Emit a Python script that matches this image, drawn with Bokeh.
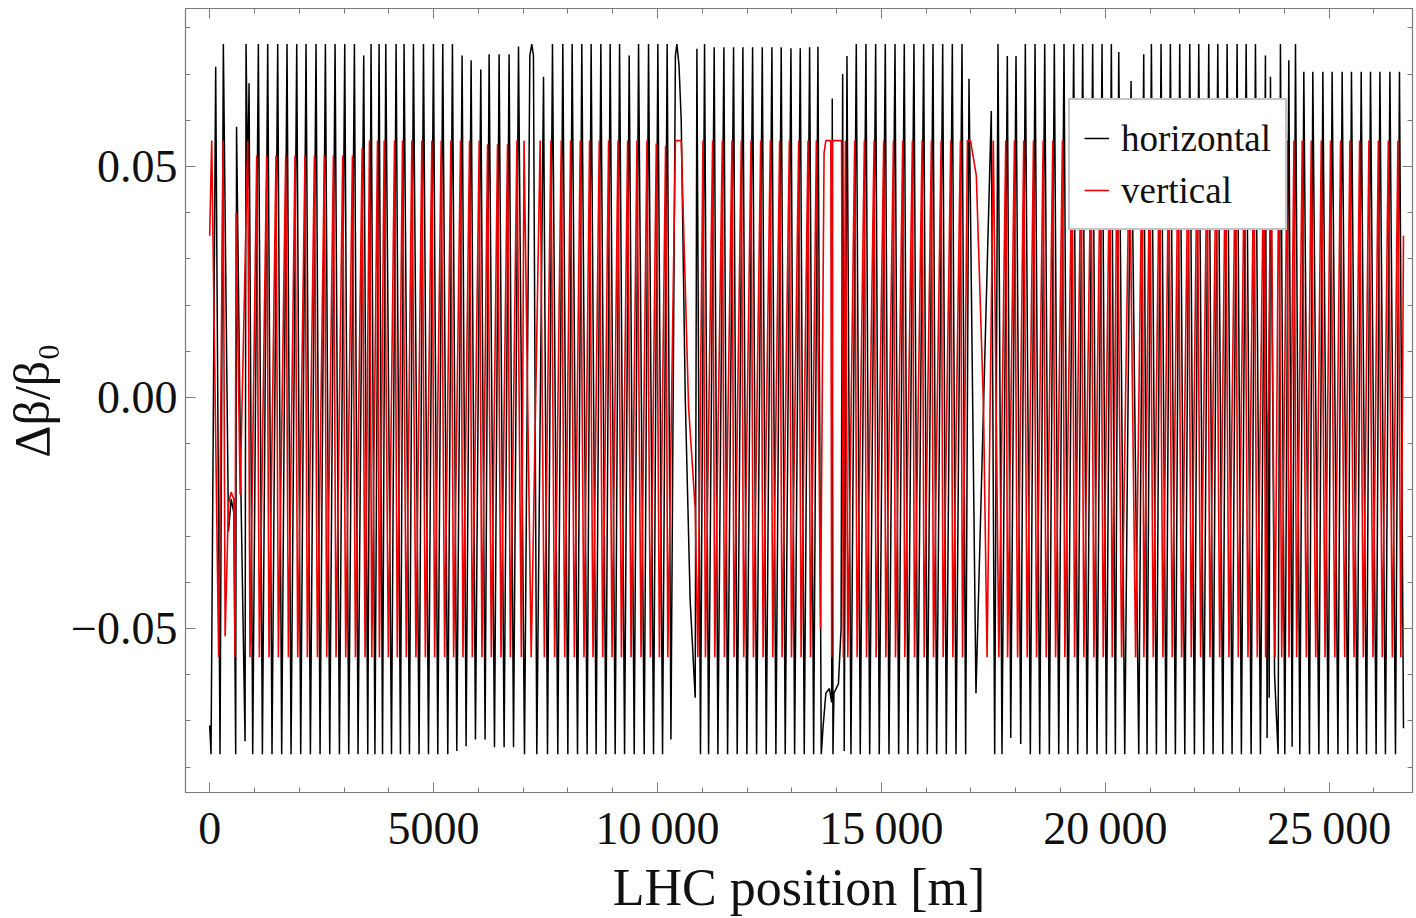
from bokeh.plotting import figure
from bokeh.models import Range1d, FixedTicker, LinearAxis, Legend, LegendItem
from bokeh.embed import file_html
from bokeh.resources import INLINE

# ---- data: (LHC position [m], delta beta / beta0) ----
h_ir1 = [(0, -0.071), (30, -0.0772), (134, 0.0716), (231, -0.0772), (305, 0.0765), (420, -0.029),
         (480, -0.022), (540, -0.025), (581, -0.0772), (600, 0.0586), (700, -0.022), (790, -0.0744),
         (812, 0.0765), (850, 0.045), (879, 0.068), (961, -0.0772)]
h_arc1 = [(1087, 0.0765), (1177, -0.0772), (1296, 0.0765), (1392, -0.0772), (1519, 0.0765), (1608, -0.0772),
          (1727, 0.0765), (1817, -0.0772), (1944, 0.0765), (2033, -0.0772), (2152, 0.0765), (2249, -0.0772),
          (2375, 0.0765), (2465, -0.0772), (2584, 0.0765), (2681, -0.0772), (2800, 0.0765), (2897, -0.0772),
          (3016, 0.0765), (3105, -0.0772), (3232, 0.0765), (3313, -0.0772), (3440, 0.074), (3530, -0.0772)]
h_arc2 = [(3604, 0.0765), (3690, -0.0772), (3783, 0.0765), (3860, -0.0772), (3932, 0.0765), (4060, -0.0772),
          (4163, 0.0765), (4260, -0.0772), (4341, 0.0765), (4461, -0.0772), (4550, 0.0765), (4676, -0.0772),
          (4774, 0.0765), (4886, -0.0772), (4997, 0.0765), (5094, -0.0772), (5205, 0.0765), (5317, -0.0772),
          (5421, 0.0765), (5518, -0.0765), (5637, 0.074), (5726, -0.0755), (5838, 0.073), (5935, -0.074),
          (6054, 0.071), (6150, -0.074)]
h_arc3 = [(6240, 0.0743), (6360, -0.0757), (6463, 0.0743), (6575, -0.0757), (6686, 0.0743), (6785, -0.0757),
          (6896, 0.076), (7030, -0.0772), (7150, 0.074), (7193, 0.0765), (7230, 0.074), (7305, -0.0772),
          (7455, 0.0694), (7544, -0.0772), (7655, 0.0765), (7774, -0.0772), (7886, 0.0765), (7998, -0.0772),
          (8094, 0.0765), (8214, -0.0772), (8310, 0.0765), (8429, -0.0772), (8518, 0.0765), (8630, -0.0772),
          (8735, 0.0765), (8847, -0.0772), (8943, 0.0765), (9055, -0.0772), (9153, 0.0765), (9265, -0.0772),
          (9368, 0.074), (9480, -0.0772), (9577, 0.0765), (9703, -0.0772), (9800, 0.0765), (9912, -0.0772),
          (10008, 0.0765), (10113, -0.0772), (10216, 0.0765), (10300, -0.074), (10400, 0.074), (10433, 0.0765),
          (10480, 0.072), (10530, 0.06), (10620, 0.0), (10730, -0.044), (10842, -0.065)]
h_arc4 = [(10880, 0.0755), (10960, -0.0772), (11051, 0.0765), (11141, -0.0772), (11266, 0.0758), (11349, -0.0772),
          (11483, 0.0758), (11565, -0.0772), (11699, 0.0758), (11780, -0.0772), (11907, 0.0758), (11996, -0.0772),
          (12124, 0.0758), (12213, -0.0772), (12340, 0.0758), (12428, -0.0772), (12555, 0.0758), (12644, -0.0772),
          (12763, 0.0758), (12852, -0.0772), (12980, 0.0756), (13062, -0.0772), (13188, 0.0756), (13277, -0.0772),
          (13397, 0.0758), (13487, -0.0772), (13583, 0.0759), (13657, -0.0772), (13700, -0.071), (13760, -0.064),
          (13840, -0.063), (13890, -0.066), (13903, 0.0647), (13918, -0.0772), (13940, -0.064), (14040, -0.062),
          (14100, -0.05), (14135, 0.070), (14170, -0.0765), (14231, 0.0739), (14320, -0.0772)]
h_arc5 = [(14439, 0.0765), (14528, -0.0772), (14655, 0.0765), (14738, -0.0772), (14872, 0.0765), (14952, -0.0772),
          (15087, 0.0765), (15169, -0.0772), (15304, 0.0765), (15385, -0.0772), (15511, 0.0765), (15593, -0.0772),
          (15727, 0.0765), (15810, -0.0772), (15944, 0.0765), (16025, -0.0772), (16152, 0.0765), (16234, -0.0772),
          (16369, 0.0765), (16449, -0.0772), (16584, 0.0765), (16666, -0.0772), (16800, 0.0765), (16882, -0.0772),
          (16956, 0.069), (17112, -0.064), (17454, 0.062)]
h_arc6 = [(17530, -0.0772), (17604, 0.0765), (17693, -0.0772), (17812, 0.0739), (17888, -0.0737), (18006, 0.0739),
          (18111, -0.075), (18214, 0.0765), (18326, -0.0772), (18431, 0.0765), (18535, -0.0772), (18647, 0.0765),
          (18750, -0.0772), (18862, 0.0765), (18960, -0.0772), (19078, 0.0765), (19167, -0.0772), (19294, 0.0765),
          (19384, -0.0772), (19495, 0.0765), (19592, -0.0772), (19718, 0.0765), (19815, -0.0772), (19927, 0.0765),
          (20024, -0.0772), (20135, 0.0765), (20225, -0.0772), (20300, 0.0748), (20434, -0.0772), (20575, 0.0685),
          (20747, -0.0772), (20858, 0.0743), (20932, -0.0772)]
h_arc7 = [(21029, 0.0765), (21141, -0.0772), (21245, 0.0765), (21357, -0.0772), (21453, 0.0765), (21565, -0.0772),
          (21662, 0.0765), (21775, -0.0772), (21886, 0.0765), (21990, -0.0772), (22087, 0.0765), (22199, -0.0772),
          (22310, 0.0765), (22407, -0.0772), (22512, 0.0765), (22624, -0.0772), (22720, 0.0765), (22831, -0.0772),
          (22943, 0.0765), (23039, -0.0772), (23145, 0.0765), (23256, -0.0772), (23353, 0.0765), (23464, -0.0772),
          (23576, 0.074), (23613, -0.0737), (23640, -0.003), (23660, -0.065), (23688, 0.0694), (23780, -0.06),
          (23859, -0.0772), (23911, 0.0765), (24009, -0.0772), (24098, 0.073), (24172, -0.0756), (24247, 0.0765),
          (24344, -0.0772)]
h_arc8 = [(24433, 0.0705), (24559, -0.0772), (24634, 0.0705), (24769, -0.0772), (24858, 0.0705), (24977, -0.0772),
          (25065, 0.0705), (25195, -0.0772), (25289, 0.0705), (25416, -0.0772), (25497, 0.0705), (25624, -0.0772),
          (25714, 0.0705), (25832, -0.0772), (25922, 0.0705), (26048, -0.0772), (26132, 0.0705), (26256, -0.0772),
          (26355, 0.0705), (26480, -0.0772), (26569, 0.0705), (26659, -0.0716)]

v_ir1 = [(0, 0.035), (45, 0.0556), (200, -0.0562), (300, 0.0556), (345, -0.0517), (420, -0.023), (480, -0.0205),
         (540, -0.022), (565, -0.0562), (590, 0.040), (680, -0.021), (850, 0.0556), (900, -0.0562)]
v_arc1 = [(1050, 0.0524), (1110, -0.0562), (1273, 0.0524), (1325, -0.0562), (1481, 0.0524), (1534, -0.0562),
          (1698, 0.0524), (1758, -0.0562), (1906, 0.0524), (1966, -0.0562), (2129, 0.0524), (2182, -0.0562),
          (2339, 0.0524), (2406, -0.0562), (2562, 0.0524), (2614, -0.0562), (2763, 0.0524), (2822, -0.0562),
          (2971, 0.0524), (3038, -0.0562), (3188, 0.0524), (3255, -0.0562), (3405, 0.054), (3470, -0.0562)]
v_arc2 = [(3569, 0.0556), (3620, -0.0562), (3748, 0.0556), (3790, -0.0562), (3897, 0.0556), (3990, -0.0562),
          (4128, 0.0556), (4190, -0.0562), (4306, 0.0556), (4391, -0.0562), (4515, 0.0556), (4606, -0.0562),
          (4739, 0.0556), (4816, -0.0562), (4962, 0.0556), (5024, -0.0562), (5170, 0.0556), (5247, -0.0562),
          (5386, 0.0556), (5448, -0.0562), (5602, 0.0556), (5656, -0.0562), (5803, 0.0556), (5865, -0.0562),
          (6019, 0.0556), (6080, -0.0562)]
v_arc3 = [(6205, 0.0548), (6290, -0.0562), (6428, 0.0548), (6505, -0.0562), (6651, 0.0548), (6715, -0.0562),
          (6861, 0.0556), (6960, -0.0562), (7020, 0.0556), (7180, -0.0562), (7380, 0.0556), (7474, -0.0562),
          (7620, 0.0556), (7704, -0.0562), (7851, 0.0556), (7928, -0.0562), (8059, 0.0556), (8144, -0.0562),
          (8275, 0.0556), (8359, -0.0562), (8483, 0.0556), (8560, -0.0562), (8700, 0.0556), (8777, -0.0562),
          (8908, 0.0556), (8985, -0.0562), (9118, 0.0556), (9195, -0.0562), (9333, 0.0556), (9410, -0.0562),
          (9542, 0.0556), (9633, -0.0562), (9765, 0.0556), (9842, -0.0562), (9973, 0.055), (10043, -0.0562),
          (10181, 0.0545), (10230, -0.0562), (10400, 0.0556), (10530, 0.0556), (10694, -0.002), (10842, -0.024),
          (10902, -0.0562)]
v_arc4 = [(11016, 0.0556), (11071, -0.0562), (11231, 0.0556), (11279, -0.0562), (11448, 0.0556), (11495, -0.0562),
          (11664, 0.0556), (11710, -0.0562), (11872, 0.0556), (11926, -0.0562), (12089, 0.0556), (12143, -0.0562),
          (12305, 0.0556), (12358, -0.0562), (12520, 0.0556), (12574, -0.0562), (12728, 0.0556), (12782, -0.0562),
          (12945, 0.0556), (12992, -0.0562), (13153, 0.0556), (13207, -0.0562), (13362, 0.0556), (13417, -0.0562),
          (13548, 0.0556), (13640, -0.050), (13720, 0.053), (13760, 0.0556), (13870, 0.0556), (13890, -0.0562),
          (13910, 0.0556), (14110, 0.0556), (14150, -0.0562)]
v_arc5 = [(14196, 0.0556), (14250, -0.0562), (14404, 0.0556), (14458, -0.0562), (14620, 0.0556), (14668, -0.0562),
          (14837, 0.0556), (14882, -0.0562), (15052, 0.0556), (15099, -0.0562), (15269, 0.0556), (15315, -0.0562),
          (15476, 0.0556), (15523, -0.0562), (15692, 0.0556), (15740, -0.0562), (15909, 0.0556), (15955, -0.0562),
          (16117, 0.0556), (16164, -0.0562), (16334, 0.0556), (16379, -0.0562), (16549, 0.0556), (16596, -0.0562),
          (16765, 0.0556), (16812, -0.0562), (16921, 0.0556), (16990, 0.0556), (17120, 0.048), (17280, -0.002),
          (17360, -0.0562)]
v_arc6 = [(17500, 0.0556), (17623, -0.0562), (17777, 0.0556), (17818, -0.0562), (17971, 0.0556), (18041, -0.0562),
          (18179, 0.0556), (18256, -0.0562), (18396, 0.0556), (18465, -0.0562), (18612, 0.0556), (18680, -0.0562),
          (18827, 0.0556), (18890, -0.0562), (19043, 0.0556), (19097, -0.0562), (19259, 0.0556), (19314, -0.0562),
          (19460, 0.0556), (19522, -0.0562), (19683, 0.0556), (19745, -0.0562), (19892, 0.0556), (19954, -0.0562),
          (20100, 0.0556), (20155, -0.0562), (20265, 0.0556), (20364, -0.0562), (20540, 0.0556), (20677, -0.0562),
          (20823, 0.0556), (20862, -0.0562)]
v_arc7 = [(20994, 0.0556), (21071, -0.0562), (21210, 0.0556), (21287, -0.0562), (21418, 0.0556), (21495, -0.0562),
          (21627, 0.0556), (21705, -0.0562), (21851, 0.0556), (21920, -0.0562), (22052, 0.0556), (22129, -0.0562),
          (22275, 0.0556), (22337, -0.0562), (22477, 0.0556), (22554, -0.0562), (22685, 0.0556), (22761, -0.0562),
          (22908, 0.0556), (22969, -0.0562), (23110, 0.0556), (23186, -0.0562), (23318, 0.0556), (23394, -0.0562),
          (23541, 0.0556), (23580, -0.0562), (23700, 0.0556), (23789, -0.0562), (23876, 0.0556), (23939, -0.0562),
          (24063, 0.0556), (24102, -0.0562), (24212, 0.0556), (24274, -0.0562)]
v_arc8 = [(24398, 0.0556), (24489, -0.0562), (24599, 0.0556), (24699, -0.0562), (24823, 0.0556), (24907, -0.0562),
          (25030, 0.0556), (25125, -0.0562), (25254, 0.0556), (25346, -0.0562), (25462, 0.0556), (25554, -0.0562),
          (25679, 0.0556), (25762, -0.0562), (25887, 0.0556), (25978, -0.0562), (26097, 0.0556), (26186, -0.0562),
          (26320, 0.0556), (26410, -0.0562), (26534, 0.0556), (26600, -0.0562), (26659, 0.035)]

x_major = [0, 5000, 10000, 15000, 20000, 25000]
x_labels = ["0", "5000", "10\u2009000", "15\u2009000", "20\u2009000", "25\u2009000"]
x_minor = list(range(0, 27000, 1000))
y_major = [-0.05, 0.0, 0.05]
y_labels = ["\u22120.05", "0.00", "0.05"]
y_minor = [-0.08, -0.07, -0.06, -0.05, -0.04, -0.03, -0.02, -0.01, 0.0, 0.01, 0.02, 0.03, 0.04, 0.05, 0.06, 0.07, 0.08]
series_names = ["horizontal", "vertical"]


def unzip(*segs):
    pts = [pt for seg in segs for pt in seg]
    return [pt[0] for pt in pts], [pt[1] for pt in pts]


hx, hy = unzip(h_ir1, h_arc1, h_arc2, h_arc3, h_arc4, h_arc5, h_arc6, h_arc7, h_arc8)
vx, vy = unzip(v_ir1, v_arc1, v_arc2, v_arc3, v_arc4, v_arc5, v_arc6, v_arc7, v_arc8)

FONT = "Liberation Serif"
FRAME = "#7a7a7a"

p = figure(width=1416, height=918, output_backend="svg", toolbar_location=None,
           x_range=Range1d(-540, 26860), y_range=Range1d(-0.0855, 0.0842),
           min_border_left=185, min_border_right=4, min_border_top=8, min_border_bottom=126)
p.grid.visible = False
p.outline_line_color = FRAME
p.outline_line_width = 1.2
p.background_fill_color = "white"
p.border_fill_color = "white"

xt = FixedTicker(ticks=x_major, minor_ticks=x_minor)
yt = FixedTicker(ticks=y_major, minor_ticks=y_minor)


def style_axis(ax, ticker):
    ax.ticker = ticker
    ax.axis_line_color = FRAME
    ax.major_tick_line_color = FRAME
    ax.minor_tick_line_color = FRAME
    ax.major_tick_in = 10
    ax.major_tick_out = 0
    ax.minor_tick_in = 5
    ax.minor_tick_out = 0
    ax.major_label_text_font = FONT
    ax.major_label_text_color = "#111111"
    ax.major_label_text_font_size = "46px"


xa = p.xaxis[0]
style_axis(xa, xt)
xa.major_label_overrides = {v: s for v, s in zip(x_major, x_labels)}
xa.major_label_standoff = 10
xa.axis_label = "LHC position [m]"
xa.axis_label_text_font = FONT
xa.axis_label_text_font_size = "52px"
xa.axis_label_text_font_style = "normal"
xa.axis_label_text_color = "#111111"
xa.axis_label_standoff = 2

ya = p.yaxis[0]
style_axis(ya, yt)
ya.major_label_overrides = {v: s for v, s in zip(y_major, y_labels)}
ya.major_label_standoff = 8
ya.axis_label = "\u0394\u03b2/\u03b2\u2080"
ya.axis_label_text_font = FONT
ya.axis_label_text_font_size = "50px"
ya.axis_label_text_font_style = "normal"
ya.axis_label_text_color = "#111111"
ya.axis_label_standoff = 8

# frame ticks on top and right (no labels)
top = LinearAxis()
style_axis(top, xt)
top.major_label_overrides = {v: "" for v in x_major}
top.major_label_text_font_size = "1px"
top.major_label_standoff = 0
p.add_layout(top, "above")

right = LinearAxis()
style_axis(right, yt)
right.major_label_overrides = {v: "" for v in y_major}
right.major_label_text_font_size = "1px"
right.major_label_standoff = 0
p.add_layout(right, "right")

rh = p.line(hx, hy, line_color="black", line_width=1.5)
rv = p.line(vx, vy, line_color="#ee0000", line_width=1.6)

legend = Legend(items=[LegendItem(label=series_names[0], renderers=[rh]),
                       LegendItem(label=series_names[1], renderers=[rv])],
                location=(883, 562))
legend.label_text_font = FONT
legend.label_text_font_size = "37px"
legend.label_text_color = "#111111"
legend.label_height = 48
legend.glyph_height = 30
legend.glyph_width = 25
legend.label_standoff = 12
legend.spacing = 4
legend.padding = 14
legend.margin = 0
legend.border_line_color = "#8a8a8a"
legend.border_line_width = 2
legend.background_fill_color = "white"
legend.background_fill_alpha = 1.0
p.add_layout(legend, "center")

open("out.html", "w").write(file_html(p, INLINE))
